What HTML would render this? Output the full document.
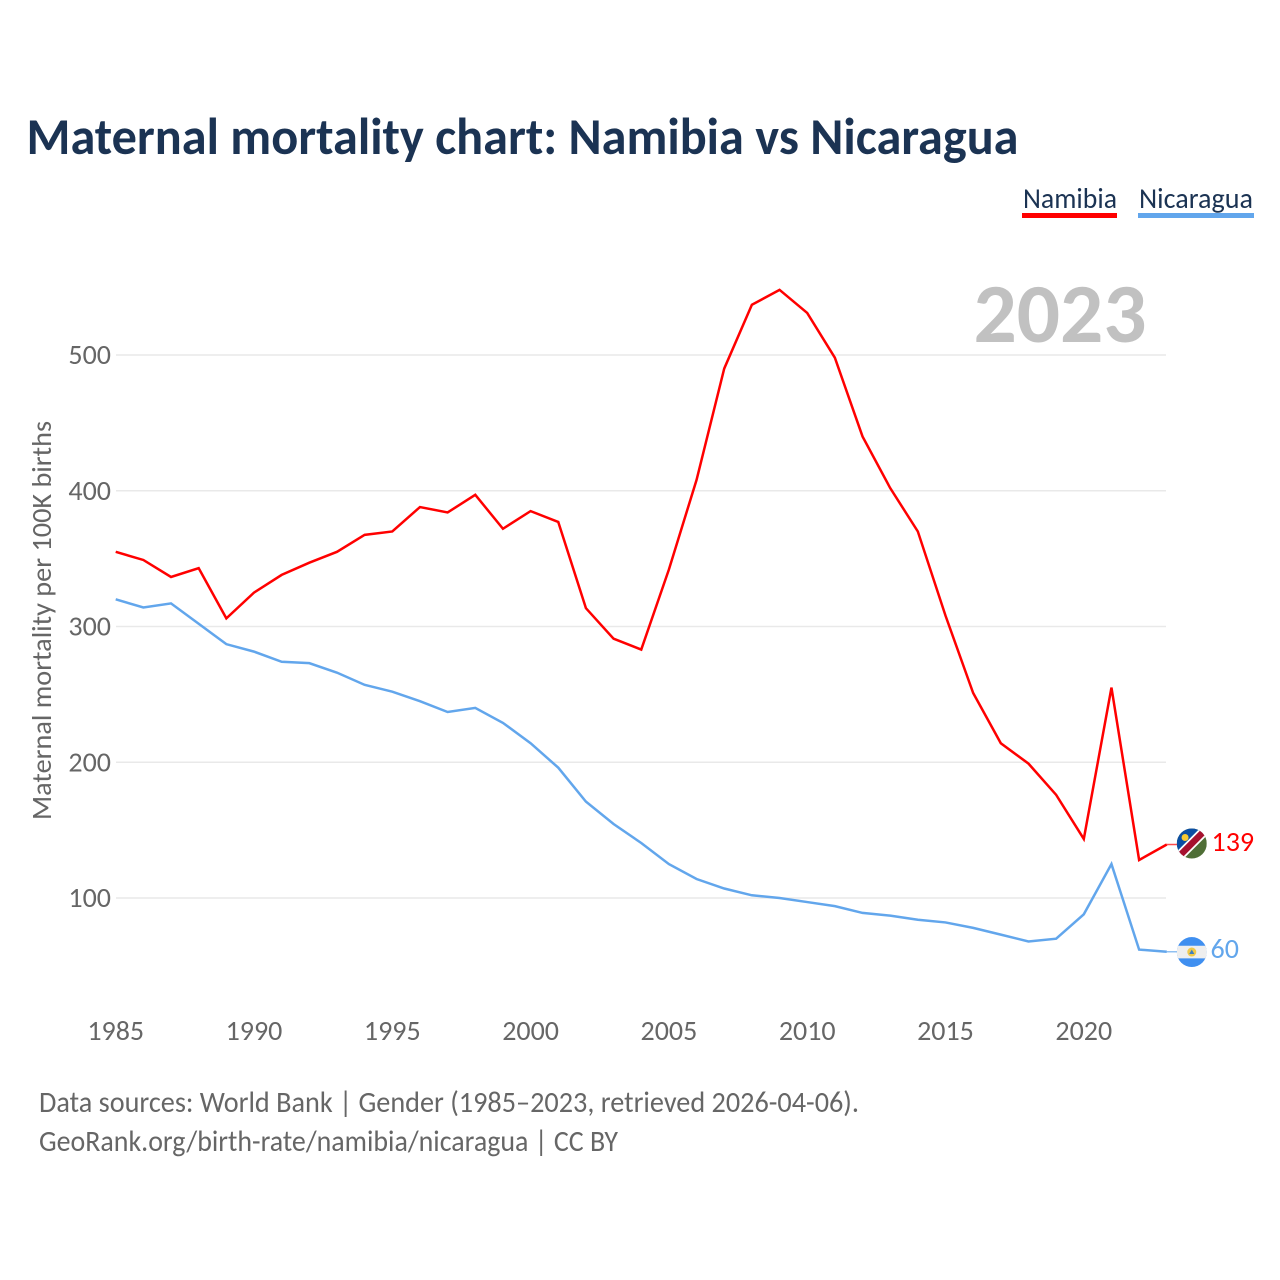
<!DOCTYPE html>
<html lang="en">
<head>
<meta charset="utf-8">
<title>Maternal mortality chart: Namibia vs Nicaragua</title>
<style>
html,body{margin:0;padding:0;background:#fff}
svg{display:block}
text{font-family:"Carlito","Lato","Liberation Sans",sans-serif}
</style>
</head>
<body>
<svg id="chart" xmlns="http://www.w3.org/2000/svg" width="1280" height="1280" viewBox="0 0 1280 1280">
  <rect width="1280" height="1280" fill="#fff"/>
  <text x="26.5" y="154" font-size="52" font-weight="700" fill="#1b3353" textLength="992" lengthAdjust="spacingAndGlyphs">Maternal mortality chart: Namibia vs Nicaragua</text>
  <g>
    <text x="1023" y="208" font-size="29" fill="#1b3353" textLength="94" lengthAdjust="spacingAndGlyphs">Namibia</text>
    <rect x="1022" y="213" width="95" height="5" fill="#ff0000"/>
  </g>
  <g>
    <text x="1139" y="208" font-size="29" fill="#1b3353" textLength="114" lengthAdjust="spacingAndGlyphs">Nicaragua</text>
    <rect x="1138" y="213" width="116" height="5" fill="#62a6ec"/>
  </g>
  <text x="973.5" y="342" font-size="84" font-weight="700" fill="#c1c1c1" textLength="173" lengthAdjust="spacingAndGlyphs">2023</text>
  <g id="grid"></g>
  <g id="y-ticks"></g>
  <g id="x-ticks"></g>
  <text transform="translate(51 820) rotate(-90)" font-size="28" fill="#666" textLength="399" lengthAdjust="spacingAndGlyphs">Maternal mortality per 100K births</text>
  <g id="series"></g>
  <g id="flag-namibia"></g>
  <g id="flag-nicaragua"></g>
  <g id="end-labels"></g>
  <text x="39" y="1112" font-size="29.5" fill="#666" textLength="820" lengthAdjust="spacingAndGlyphs">Data sources: World Bank | Gender (1985–2023, retrieved 2026-04-06).</text>
  <text x="39" y="1151" font-size="29.5" fill="#666" textLength="579" lengthAdjust="spacingAndGlyphs">GeoRank.org/birth-rate/namibia/nicaragua | CC BY</text>
</svg>
<script>
const years = [1985,1986,1987,1988,1989,1990,1991,1992,1993,1994,1995,1996,1997,1998,1999,2000,2001,2002,2003,2004,2005,2006,2007,2008,2009,2010,2011,2012,2013,2014,2015,2016,2017,2018,2019,2020,2021,2022,2023];
const namibiaValues = [355,349,336.5,343,306,325,338,347,355,367.5,370,388,384,397,372,385,377,313.5,291,283,342,408,490,537,548,531,498,440,402,370,308,251,214,199,176,143.5,255,128,139.4];
const nicaraguaValues = [320,314,317,302,287,281.5,274,273,266,257,252,245,237,240,229,214,196,171,154.5,140.5,125,114,107,102,100,97,94,89,87,84,82,78,73,68,70,88,125,62,60.4];
const yTickValues = [100,200,300,400,500];
const xTickValues = [1985,1990,1995,2000,2005,2010,2015,2020];

const NS = 'http://www.w3.org/2000/svg';
function xScale(year){ return 115.7 + (year - 1985) * 27.66; }
function yScale(value){ return 1033.75 - value * 1.3575; }
function make(tag, attrs, parent){
  const el = document.createElementNS(NS, tag);
  for (const k in attrs) el.setAttribute(k, attrs[k]);
  parent.appendChild(el);
  return el;
}
const grid = document.getElementById('grid');
const yTicks = document.getElementById('y-ticks');
const xTicks = document.getElementById('x-ticks');
const seriesGroup = document.getElementById('series');
const endLabels = document.getElementById('end-labels');

yTickValues.forEach(function(v){
  const line = make('line', {x1:116, x2:1166, y1:yScale(v), y2:yScale(v), stroke:'#e9e9e9', 'stroke-width':1.5}, grid);
  
  
  const label = make('text', {x:111, y:yScale(v)+9, 'text-anchor':'end', 'font-size':28, fill:'#666'}, yTicks);
  
  
  label.textContent = v;
});
xTickValues.forEach(function(y){
  const label = make('text', {x:xScale(y), y:1040, 'text-anchor':'middle', 'font-size':28, fill:'#666'}, xTicks);
  
  
  label.textContent = y;
});

function drawSeries(values, color, name){
  const pts = values.map(function(v, i){ return xScale(years[i]).toFixed(2) + ',' + yScale(v).toFixed(2); }).join(' ');
  const line = make('polyline', {points:pts, fill:'none', stroke:color, 'stroke-width':2.5, 'stroke-linejoin':'miter'}, seriesGroup);
  
  
  const lastY = yScale(values[values.length - 1]);
  const lastX = xScale(years[years.length - 1]);
  const tail = make('line', {x1:lastX, x2:lastX + 12, y1:lastY, y2:lastY, stroke:color, 'stroke-width':1.5, opacity:0.7}, seriesGroup);
  
  
}
drawSeries(namibiaValues, '#ff0000', 'line-namibia');
drawSeries(nicaraguaValues, '#62a6ec', 'line-nicaragua');

const flagX = xScale(years[years.length - 1]) + 25;
const namY = yScale(namibiaValues[namibiaValues.length - 1]) - 1;
const nicY = yScale(nicaraguaValues[nicaraguaValues.length - 1]) + 0.3;

const fn = document.getElementById('flag-namibia');
const clipDefs = make('defs', {}, fn);
const c1 = make('clipPath', {id:'clip-flag'}, clipDefs);
make('circle', {cx:0, cy:0, r:15}, c1);

const namG = make('g', {'clip-path':'url(#clip-flag)', transform:'translate(' + flagX + ' ' + namY + ')'}, fn);
make('rect', {x:-15, y:-15, width:30, height:30, fill:'#4f6e36'}, namG);
make('polygon', {points:'-15,-15 15,-15 -15,15', fill:'#0b4ea2'}, namG);
make('line', {x1:-15, y1:15, x2:15, y2:-15, stroke:'#fff', 'stroke-width':10}, namG);
make('line', {x1:-15, y1:15, x2:15, y2:-15, stroke:'#a6112e', 'stroke-width':6.5}, namG);
make('circle', {cx:-6.7, cy:-6, r:3.5, fill:'#f6c932'}, namG);

const fi = document.getElementById('flag-nicaragua');
const nicG = make('g', {'clip-path':'url(#clip-flag)', transform:'translate(' + flagX + ' ' + nicY + ')'}, fi);
make('rect', {x:-15, y:-15, width:30, height:30, fill:'#3f8ff0'}, nicG);
make('rect', {x:-15, y:-6.3, width:30, height:12.6, fill:'#eeeeee'}, nicG);
make('circle', {cx:0, cy:0, r:4.5, fill:'#f0c94a'}, nicG);
make('polygon', {points:'-2.6,2 2.6,2 0,-2.4', fill:'#3f7fc0'}, nicG);

const namLabel = make('text', {x:1211.5, y:yScale(namibiaValues[namibiaValues.length - 1]) + 6.5, 'font-size':28, fill:'#ff0000'}, endLabels);


namLabel.textContent = Math.round(namibiaValues[namibiaValues.length - 1]);
const nicLabel = make('text', {x:1210.5, y:yScale(nicaraguaValues[nicaraguaValues.length - 1]) + 6, 'font-size':28, fill:'#62a6ec'}, endLabels);


nicLabel.textContent = Math.round(nicaraguaValues[nicaraguaValues.length - 1]);
</script>
</body>
</html>
